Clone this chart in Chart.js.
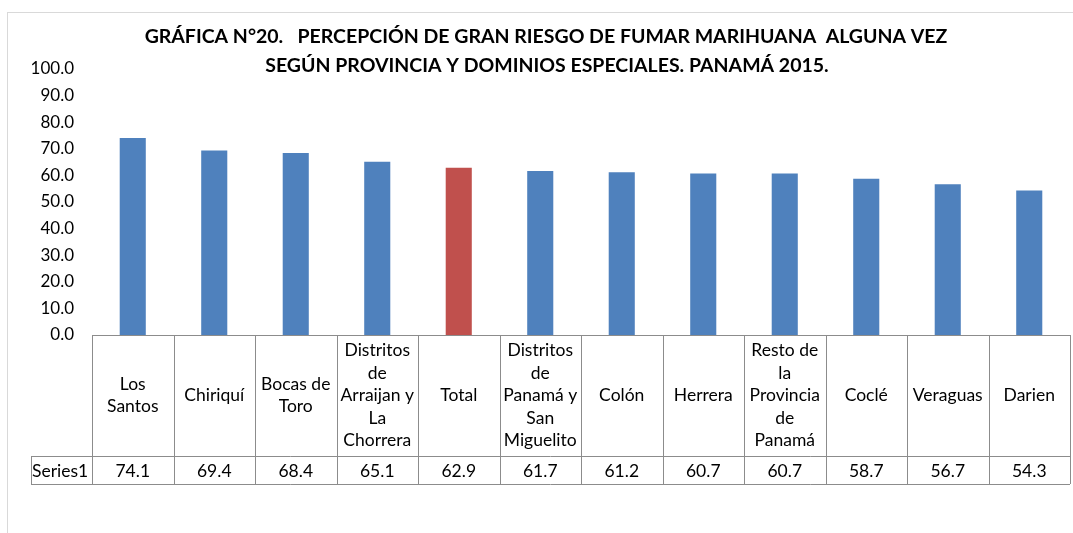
<!DOCTYPE html>
<html>
<head>
<meta charset="utf-8">
<script src="https://cdn.jsdelivr.net/npm/chart.js@4"></script>
<style>
    html, body { margin: 0; padding: 0; background: #fff; }
    #wrap { width: 1073px; height: 533px; position: relative; }
</style>
</head>
<body>
<div id="wrap"><canvas id="chart"></canvas></div>
<script>
// Datos de la gráfica
const categorias = [
    ['Los', 'Santos'],
    ['Chiriquí'],
    ['Bocas de', 'Toro'],
    ['Distritos', 'de', 'Arraijan y', 'La', 'Chorrera'],
    ['Total'],
    ['Distritos', 'de', 'Panamá y', 'San', 'Miguelito'],
    ['Colón'],
    ['Herrera'],
    ['Resto de', 'la', 'Provincia', 'de', 'Panamá'],
    ['Coclé'],
    ['Veraguas'],
    ['Darien']
];
const serieNombre = 'Series1';
const valores = [74.1, 69.4, 68.4, 65.1, 62.9, 61.7, 61.2, 60.7, 60.7, 58.7, 56.7, 54.3];
const ejeY = [0, 10, 20, 30, 40, 50, 60, 70, 80, 90, 100];
const titulo = [
    'GRÁFICA N°20.   PERCEPCIÓN DE GRAN RIESGO DE FUMAR MARIHUANA  ALGUNA VEZ',
    'SEGÚN PROVINCIA Y DOMINIOS ESPECIALES. PANAMÁ 2015.'
];

const FONT = "Lato, 'Open Sans', sans-serif";

// Título, marco y tabla de datos
const tablaPlugin = {
    id: 'tabla',
    afterDraw(chart) {
        const ctx = chart.ctx;
        const x = chart.scales.x;
        const area = chart.chartArea;
        const paso = x.getPixelForValue(1) - x.getPixelForValue(0);
        const izq = x.getPixelForValue(0) - paso / 2;
        const der = x.getPixelForValue(categorias.length - 1) + paso / 2;
        const top = area.bottom;
        const filaDatos = top + 121;
        const fin = filaDatos + 28;

        ctx.save();
        // marco exterior
        ctx.strokeStyle = '#d9d9d9';
        ctx.lineWidth = 1;
        ctx.strokeRect(7.5, 12.5, 1100, 600);

        // título
        ctx.fillStyle = '#000';
        ctx.font = 'bold 19.5px ' + FONT;
        ctx.textAlign = 'center';
        ctx.textBaseline = 'middle';
        ctx.fillText(titulo[0], 546, 37);
        ctx.fillText(titulo[1], 547, 66);

        // líneas de la tabla
        ctx.strokeStyle = '#8c8c8c';
        ctx.beginPath();
        ctx.moveTo(izq, top + 0.5); ctx.lineTo(der, top + 0.5);
        ctx.moveTo(31, filaDatos + 0.5); ctx.lineTo(der, filaDatos + 0.5);
        ctx.moveTo(31, fin + 0.5); ctx.lineTo(der, fin + 0.5);
        ctx.moveTo(31.5, filaDatos); ctx.lineTo(31.5, fin);
        for (let i = 0; i <= categorias.length; i++) {
            const xx = Math.round(izq + i * paso) + 0.5;
            ctx.moveTo(xx, top); ctx.lineTo(xx, fin);
        }
        ctx.stroke();

        // textos
        ctx.fillStyle = '#000';
        ctx.font = '17.5px ' + FONT;
        const alto = 22.5;
        categorias.forEach((lineas, i) => {
            const cx = x.getPixelForValue(i);
            const y0 = top + 60.5 - (lineas.length - 1) * alto / 2;
            lineas.forEach((t, j) => ctx.fillText(t, cx, y0 + j * alto));
            ctx.fillText(valores[i].toFixed(1), cx, filaDatos + 15);
        });
        ctx.textAlign = 'left';
        ctx.fillText(serieNombre, 32, filaDatos + 15);
        ctx.restore();
    }
};

new Chart(document.getElementById('chart'), {
    type: 'bar',
    data: {
        labels: categorias,
        datasets: [{
            label: serieNombre,
            data: valores,
            backgroundColor: categorias.map(c => c[0] === 'Total' ? '#c0504d' : '#4f81bd'),
            barPercentage: 0.32,
            categoryPercentage: 1
        }]
    },
    options: {
        responsive: true,
        maintainAspectRatio: false,
        animation: false,
        layout: { padding: { top: 69, bottom: 198, left: 0, right: 3 } },
        plugins: {
            legend: { display: false },
            title: { display: false },
            tooltip: { enabled: false }
        },
        scales: {
            x: { display: false },
            y: {
                min: ejeY[0],
                max: ejeY[ejeY.length - 1],
                afterFit: s => { s.width = 92; },
                afterBuildTicks: s => { s.ticks = ejeY.map(v => ({ value: v })); },
                grid: { display: false, drawTicks: false },
                border: { display: false },
                ticks: {
                    padding: 18,
                    color: '#000',
                    font: { size: 17, family: FONT },
                    callback: v => v.toFixed(1)
                }
            }
        }
    },
    plugins: [tablaPlugin]
});
</script>
</body>
</html>
